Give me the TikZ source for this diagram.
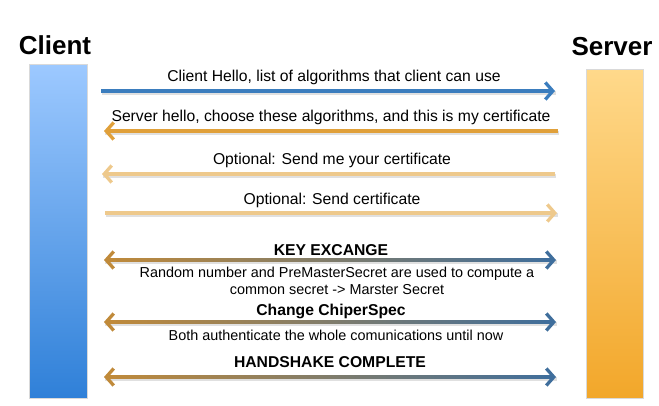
\documentclass[tikz,border=0pt]{standalone}
\usepackage{fontspec}
\setmainfont{Liberation Sans}
\usetikzlibrary{arrows.meta}
\definecolor{cltop}{HTML}{9DC9FF}
\definecolor{clbot}{HTML}{2F80D8}
\definecolor{svtop}{HTML}{FFD98B}
\definecolor{svbot}{HTML}{F2A72A}
\definecolor{ablue}{HTML}{3B7DBE}
\definecolor{agold}{HTML}{E0A03A}
\definecolor{atan}{HTML}{EEC98C}
\definecolor{kgold}{HTML}{C08A3A}
\definecolor{kmid}{HTML}{7F6E78}
\definecolor{kblue}{HTML}{3F6E9C}
\begin{document}
\begin{tikzpicture}[x=1pt,y=-1pt,
  lbl/.style={font=\fontsize{15.7}{17}\selectfont, inner sep=0pt},
  ttl/.style={font=\fontsize{15.7}{17}\selectfont\bfseries, inner sep=0pt},
  sub/.style={font=\fontsize{14.4}{17}\selectfont, inner sep=0pt, align=center},
  head/.style={font=\fontsize{26}{30}\selectfont\bfseries, inner sep=0pt},
  bar/.style={draw=white!85!black, line width=0.6pt, inner sep=0pt},
  tipr/.style={-{Straight Barb[length=7.5pt,width=17pt]}},
  tipl/.style={{Straight Barb[length=7.5pt,width=17pt]}-},
  msg/.style={line width=3.3pt},
  shad/.style={line width=3.3pt, black, opacity=0.12, transform canvas={shift={(1pt,-2pt)}}}]
\useasboundingbox (0,0) rectangle (659,405);

% lifelines
\node[bar, top color=cltop, bottom color=clbot, minimum width=58pt, minimum height=334pt] (client) at (58,231) {};
\node[bar, top color=svtop, bottom color=svbot, minimum width=57pt, minimum height=329pt] (server) at (614.5,233.5) {};
\node[head] (clientlbl) at (55,45) {Client};
\node[head] (serverlbl) at (612,47) {Server};

% endpoints
\coordinate (a1s) at (101,91);  \coordinate (a1e) at (555,91);
\coordinate (a2s) at (558,131); \coordinate (a2e) at (104,131);
\coordinate (a3s) at (555,174); \coordinate (a3e) at (102,174);
\coordinate (a4s) at (105,213); \coordinate (a4e) at (557,213);
\coordinate (k1l) at (104,260); \coordinate (k1r) at (556,260);
\coordinate (k2l) at (104,322); \coordinate (k2r) at (556,322);
\coordinate (k3l) at (104,377); \coordinate (k3r) at (556,377);

% shadows
\foreach \s/\e in {a1s/a1e,a2s/a2e,a3s/a3e,a4s/a4e,k1l/k1r,k2l/k2r,k3l/k3r}
  \draw[shad] (\s) -- (\e);

% single arrows
\draw[msg, tipr, ablue] (a1s) -- (a1e);
\draw[msg, tipr, agold] (a2s) -- (a2e);
\draw[msg, tipr, atan] (a3s) -- (a3e);
\draw[msg, tipr, atan] (a4s) -- (a4e);

% double arrows with gradient
\foreach \l/\r in {k1l/k1r,k2l/k2r,k3l/k3r}{
  \shade[left color=kgold, middle color=kmid, right color=kblue]
    ([xshift=3pt,yshift=-1.65pt]\l) rectangle ([xshift=-3pt,yshift=1.65pt]\r);
  \draw[msg, tipl, kgold] (\l) -- ++(12,0);
  \draw[msg, tipr, kblue] ([xshift=-12pt]\r) -- (\r);
}

% labels
\node[lbl] (t1) at (334,77) {Client Hello, list of algorithms that client can use};
\node[lbl] (t2) at (331,117) {Server hello, choose these algorithms, and this is my certificate};
\node[lbl] (t3) at (332,160) {Optional: Send me your certificate};
\node[lbl] (t4) at (332,200) {Optional: Send certificate};
\node[ttl] (t5) at (331,250) {KEY EXCANGE};
\node[sub] (t6) at (337,280.5) {Random number and PreMasterSecret are used to compute a\\common secret -> Marster Secret};
\node[ttl] (t7) at (331,311) {Change ChiperSpec};
\node[sub] (t8) at (336,335) {Both authenticate the whole comunications until now};
\node[ttl] (t9) at (330,362) {HANDSHAKE COMPLETE};
\end{tikzpicture}
\end{document}
